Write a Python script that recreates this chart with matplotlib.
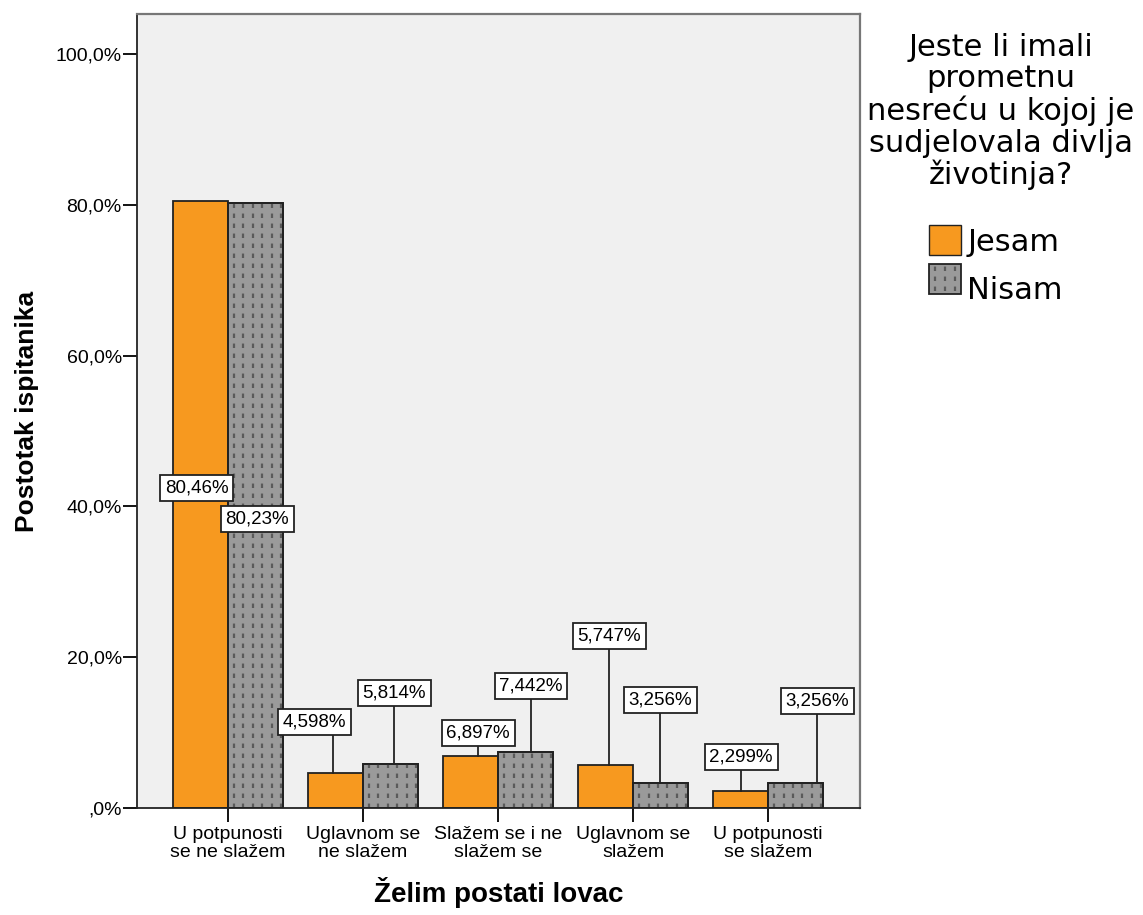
import matplotlib
matplotlib.use("Agg")
import matplotlib.pyplot as plt
import numpy as np
from matplotlib.patches import Patch, Rectangle
from matplotlib.lines import Line2D

plt.rcParams['font.family'] = ['Liberation Sans', 'DejaVu Sans']

categories = ['U potpunosti\nse ne slažem', 'Uglavnom se\nne slažem', 'Slažem se i ne\nslažem se',
              'Uglavnom se\nslažem', 'U potpunosti\nse slažem']
jesam = [80.46, 4.598, 6.897, 5.747, 2.299]
nisam = [80.23, 5.814, 7.442, 3.256, 3.256]
jesam_lbl = ['80,46%', '4,598%', '6,897%', '5,747%', '2,299%']
nisam_lbl = ['80,23%', '5,814%', '7,442%', '3,256%', '3,256%']
# label box positions (x offset from category, y in %)
jesam_pos = [(-0.23, 42.4), (-0.363, 11.4), (-0.148, 9.95), (-0.178, 22.8), (-0.2, 6.76)]
nisam_pos = [(0.215, 38.3), (0.23, 15.25), (0.244, 16.2), (0.2, 14.3), (0.363, 14.2)]

orange = '#f7991f'
grey = '#9a9a9a'
edge = '#222222'
dash_col = '#5a5a5a'


class DottedHandler:
    def legend_artist(self, legend, orig_handle, fontsize, handlebox):
        x0, y0 = handlebox.xdescent, handlebox.ydescent
        wd, ht = handlebox.width, handlebox.height
        r = Rectangle((x0, y0), wd, ht, facecolor=grey, edgecolor=edge, lw=1.3,
                      transform=handlebox.get_transform())
        handlebox.add_artist(r)
        for f in (0.2, 0.5, 0.8):
            ln = Line2D([x0 + f * wd] * 2, [y0 + 2, y0 + ht - 2], color=dash_col, lw=1.6,
                        linestyle=(0, (2, 2.5)), transform=handlebox.get_transform())
            handlebox.add_artist(ln)
        return r


fig = plt.figure(figsize=(11.43, 9.15), dpi=100)
ax = fig.add_axes([0.1199, 0.1169, 0.6325, 0.8678])
ax.set_facecolor('#f0f0f0')

x = np.arange(len(categories))
w = 0.407
ax.bar(x - w / 2, jesam, w, color=orange, edgecolor=edge, linewidth=1.3, zorder=2)
ax.bar(x + w / 2, nisam, w, color=grey, edgecolor=edge, linewidth=1.3, zorder=2)
# dotted pattern inside the grey bars
px = 1 / 135.0
for i in range(len(categories)):
    cols = x[i] + (6 + 9.4 * np.arange(6)) * px
    ax.vlines(cols, 0, nisam[i], colors=dash_col, linewidth=1.6,
              linestyles=[(0, (2, 2.5))], zorder=2.5)
ax.bar(x + w / 2, nisam, w, color='none', edgecolor=edge, linewidth=1.3, zorder=2.6)

box = dict(boxstyle='square,pad=0.25', facecolor='white', edgecolor=edge, linewidth=1.3)
for i in range(len(categories)):
    for vals, lbls, pos, sgn in ((jesam, jesam_lbl, jesam_pos, -1), (nisam, nisam_lbl, nisam_pos, 1)):
        bc = x[i] + sgn * w / 2
        tx, ty = x[i] + pos[i][0], pos[i][1]
        lx = np.clip(tx, bc - w * 0.05, bc + w * 0.4)
        if ty > vals[i]:
            ax.plot([lx, lx], [vals[i], ty], color=edge, linewidth=1.3, zorder=3)
        ax.text(tx, ty, lbls[i], ha='center', va='center', fontsize=13.5, bbox=box, zorder=4)

ax.set_xlim(-0.674, 4.68)
ax.set_ylim(0, 105.3)
ax.set_xticks(x)
ax.set_xticklabels(categories, fontsize=14, linespacing=1.05)
ax.set_yticks([0, 20, 40, 60, 80, 100])
ax.set_yticklabels([',0%', '20,0%', '40,0%', '60,0%', '80,0%', '100,0%'], fontsize=14)
ax.tick_params(axis='x', length=10, width=1.3, pad=3)
ax.tick_params(axis='y', length=10, width=1.3, pad=1)
for s in ['left', 'bottom']:
    ax.spines[s].set_color(edge)
    ax.spines[s].set_linewidth(1.3)
for s in ['top', 'right']:
    ax.spines[s].set_color('#777777')
    ax.spines[s].set_linewidth(1.6)

ax.set_ylabel('Postotak ispitanika', fontsize=19, fontweight='bold', labelpad=12)
ax.set_xlabel('Želim postati lovac', fontsize=20, fontweight='bold', labelpad=12)

fig.text(1001 / 1143, 1 - 33 / 915,
         'Jeste li imali\nprometnu\nnesreću u kojoj je\nsudjelovala divlja\nživotinja?',
         ha='center', va='top', fontsize=22, family='DejaVu Sans', linespacing=1.1,
         multialignment='center')

handles = [Patch(facecolor=orange, edgecolor=edge, label='Jesam'),
           Patch(facecolor=grey, edgecolor=edge, label='Nisam')]
leg = fig.legend(handles=handles, loc='upper left', bbox_to_anchor=(929 / 1143, 1 - 225 / 915),
                 prop={'family': 'DejaVu Sans', 'size': 22},
                 handler_map={handles[1]: DottedHandler()},
                 frameon=False, handlelength=1.05, handleheight=1.15,
                 handletextpad=0.2, labelspacing=0.55, borderpad=0, borderaxespad=0)

fig.savefig('out.png', dpi=100)
